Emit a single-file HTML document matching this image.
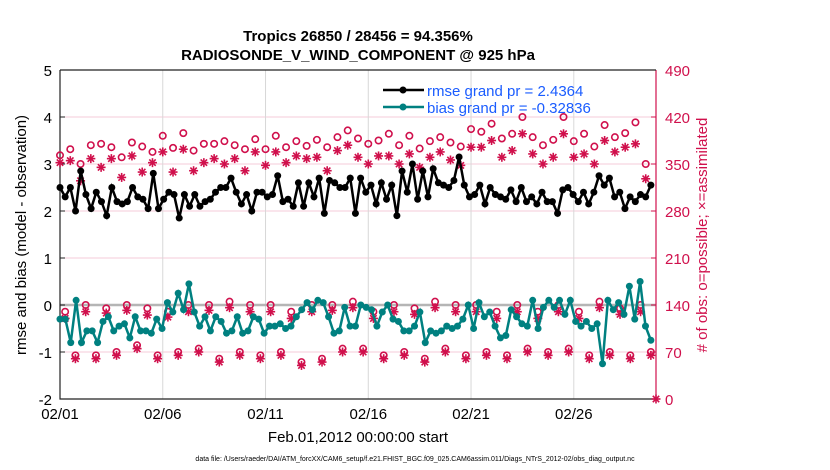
<!DOCTYPE html>
<html><head><meta charset="utf-8"><style>
body{margin:0;background:#fff;}
svg{display:block;font-family:"Liberation Sans",sans-serif;}
</style></head><body>
<svg id="chart" width="830" height="470">
<text x="358" y="41" text-anchor="middle" font-size="15" font-weight="bold">Tropics 26850 / 28456 = 94.356%</text>
<text x="358" y="60" text-anchor="middle" font-size="15" font-weight="bold">RADIOSONDE_V_WIND_COMPONENT @ 925 hPa</text>
<g id="grid"></g><g id="axes"></g><g id="marks"></g>
<text x="358" y="442" text-anchor="middle" font-size="15">Feb.01,2012 00:00:00 start</text>
<text transform="translate(26,235) rotate(-90)" text-anchor="middle" font-size="15">rmse and bias (model - observation)</text>
<text transform="translate(707,235) rotate(-90)" text-anchor="middle" font-size="15" fill="#d0104c"># of obs: o=possible; ×=assimilated</text>
<text x="415" y="461" text-anchor="middle" font-size="7">data file: /Users/raeder/DAI/ATM_forcXX/CAM6_setup/f.e21.FHIST_BGC.f09_025.CAM6assim.011/Diags_NTrS_2012-02/obs_diag_output.nc</text>
<g>
<line x1="383" y1="90" x2="424" y2="90" stroke="#000" stroke-width="2.5"/><circle cx="403" cy="90" r="3.5" fill="#000"/>
<text x="427" y="96" font-size="15" fill="#1a5cff">rmse grand pr = 2.4364</text>
<line x1="383" y1="107" x2="424" y2="107" stroke="#008080" stroke-width="2.5"/><circle cx="403" cy="107" r="3.5" fill="#008080"/>
<text x="427" y="113" font-size="15" fill="#1a5cff">bias grand pr = -0.32836</text>
</g>
</svg>
<script>
const rmse=[2.5,2.3,2.5,2.0,2.85,2.35,2.05,2.4,2.2,1.9,2.5,2.2,2.15,2.2,2.5,2.3,2.25,2.05,2.8,2.05,2.25,2.4,2.35,1.85,2.35,2.1,2.35,2.1,2.2,2.25,2.4,2.5,
2.5,2.7,2.4,2.15,2.35,2.0,2.4,2.4,2.3,2.35,2.75,2.2,2.25,2.1,2.6,2.1,2.6,2.3,2.7,1.95,2.65,2.6,2.5,2.5,2.7,1.95,2.7,2.4,
2.55,2.15,2.6,2.25,2.55,1.9,2.85,2.4,3.0,2.25,2.85,2.3,2.9,2.6,2.55,2.5,2.65,3.15,2.55,2.3,2.35,2.55,2.15,2.5,2.35,2.3,2.25,
2.45,2.2,2.5,2.2,2.3,2.15,2.4,2.2,2.2,1.95,2.45,2.5,2.35,2.2,2.4,2.15,2.4,2.75,2.55,2.7,2.3,2.4,2.05,2.3,2.2,2.35,2.3,2.55];
const bias=[-0.3,-0.3,-0.8,0.1,-0.8,-0.55,-0.55,-0.8,-0.35,-0.25,-0.55,-0.45,-0.4,-0.7,-0.25,-0.55,-0.55,-0.6,-0.3,-0.5,0.05,-0.15,0.25,-0.1,0.45,-0.15,-0.45,-0.25,-0.55,
-0.25,-0.35,-0.6,-0.55,-0.25,-0.6,-0.55,-0.25,-0.3,-0.6,-0.45,-0.45,-0.4,-0.5,-0.45,-0.25,-0.1,0.05,-0.1,0.1,0.05,-0.25,-0.6,-0.55,-0.05,-0.45,-0.45,0,-0.05,
-0.1,-0.45,-0.15,0,-0.3,-0.35,-0.55,-0.55,-0.45,-0.15,-0.8,-0.55,-0.6,-0.55,-0.45,-0.5,-0.45,-0.3,0,-0.5,0.05,-0.25,-0.15,-0.45,-0.7,
-0.65,-0.1,-0.25,-0.4,-0.45,0.1,-0.5,-0.05,0.1,-0.05,0.1,-0.2,0.1,-0.35,-0.45,-0.35,-0.5,-0.4,-1.25,0.1,-0.1,0.05,-0.2,0.4,-0.3,0.5,-0.45,-0.75];
const upPossible=[363,372,350,378,380,375,360,382,376,368,392,374,396,370,380,380,384,378,372,387,372,392,375,384,377,386,375,390,400,388,380,385,395,378,392,373,384,390,382,376,402,398,410,388,395,420,390,378,386,420,384,395,376,408,390,396,412,350];
const upAssim=[352,355,325,358,345,358,330,362,338,352,368,338,372,340,352,358,350,358,340,368,348,368,352,362,358,360,340,370,378,360,350,362,362,350,365,345,360,368,356,348,375,375,385,360,370,395,365,350,360,395,360,365,350,385,368,375,380,328];
const lowPossible=[130,65,140,65,135,70,140,80,135,65,130,70,140,75,140,60,145,70,140,65,140,70,130,55,140,60,140,75,145,75,130,65,140,70,135,60,145,75,140,65,140,70,130,65,140,75,130,70,140,75,130,65,145,70,135,65,140,70];
const lowAssim=[120,60,130,60,128,65,132,75,125,60,122,65,130,70,132,55,136,65,130,60,130,65,120,50,130,55,132,70,136,70,120,60,130,65,126,55,136,70,130,60,130,65,120,60,130,70,120,65,130,70,120,60,136,65,126,60,130,65];
const leftTicks=[-2,-1,0,1,2,3,4,5];
const rightTicks=[0,70,140,210,280,350,420,490];
const dateTicks=[0,5,10,15,20,25];
const dateLabels=["02/01","02/06","02/11","02/16","02/21","02/26"];

const X0=60,X1=656,Y0=70,Y1=399,DAYS=29;
const xs=d=>X0+d/DAYS*(X1-X0);
const ys=v=>Y1-(v+2)/7*(Y1-Y0);
const yr=n=>Y1-n/490*(Y1-Y0);
const NS="http://www.w3.org/2000/svg";
function mk(tag,attrs,parent){const e=document.createElementNS(NS,tag);for(const k in attrs)e.setAttribute(k,attrs[k]);parent.appendChild(e);return e;}
const grid=document.getElementById('grid'),axes=document.getElementById('axes'),marks=document.getElementById('marks');

leftTicks.forEach(v=>{
 const l=mk('line',{x1:X0,x2:X1,y1:ys(v),y2:ys(v),stroke:'#f6cbd9','stroke-width':1},grid);
 
 
 const t=mk('text',{x:X0-8,y:ys(v)+6,'text-anchor':'end','font-size':15},axes);t.textContent=v;
 
 
 mk('line',{x1:X0,x2:X0+5,y1:ys(v),y2:ys(v),stroke:'#222'},axes);
});
rightTicks.forEach(n=>{
 const t=mk('text',{x:X1+9,y:yr(n)+6,'font-size':15,fill:'#d0104c'},axes);t.textContent=n;
 
 
 mk('line',{x1:X1-5,x2:X1,y1:yr(n),y2:yr(n),stroke:'#d0104c'},axes);
});
dateTicks.forEach((d,i)=>{
 const l=mk('line',{x1:xs(d),x2:xs(d),y1:Y0,y2:Y1,stroke:'#d8d8d8'},grid);
 
 
 const t=mk('text',{x:xs(d),y:Y1+20,'text-anchor':'middle','font-size':15},axes);t.textContent=dateLabels[i];
 
 
});
const zl=mk('line',{x1:X0,x2:X1,y1:ys(0),y2:ys(0),stroke:'#b5b5b5','stroke-width':2.5},grid);


const box=mk('path',{d:`M${X0},${Y0}V${Y1}H${X1}`,fill:'none',stroke:'#222','stroke-width':1.2},axes);


const ra=mk('line',{x1:X1,x2:X1,y1:Y0,y2:Y1,stroke:'#d0104c','stroke-width':1.2},axes);


mk('line',{x1:X0,x2:X1,y1:Y0,y2:Y0,stroke:'#222','stroke-width':1.2},axes);

function star(cx,cy,name){
 const g=mk('g',{stroke:'#d0104c','stroke-width':1.6},marks);
 
 
 const r=4.5;
 mk('line',{x1:cx-r,x2:cx+r,y1:cy,y2:cy},g);mk('line',{x1:cx,x2:cx,y1:cy-r,y2:cy+r},g);
 mk('line',{x1:cx-3.2,x2:cx+3.2,y1:cy-3.2,y2:cy+3.2},g);mk('line',{x1:cx-3.2,x2:cx+3.2,y1:cy+3.2,y2:cy-3.2},g);
}
function circ(cx,cy,name){
 const c=mk('circle',{cx:cx,cy:cy,r:3.2,fill:'none',stroke:'#d0104c','stroke-width':1.6},marks);
 
 
}
const step=0.5;
upPossible.forEach((n,i)=>circ(xs(i*step),yr(n),'obs-possible-upper'));
upAssim.forEach((n,i)=>star(xs(i*step),yr(n),'obs-assimilated-upper'));
lowPossible.forEach((n,i)=>circ(xs(i*step+0.25),yr(n),'obs-possible-lower'));
lowAssim.forEach((n,i)=>star(xs(i*step+0.25),yr(n),'obs-assimilated-lower'));
star(xs(DAYS),yr(0),'obs-assimilated-end');

function series(vals,color,name){
 const dx=28.75/(vals.length-1);
 const pts=vals.map((v,i)=>xs(i*dx)+','+ys(v)).join(' ');
 const pl=mk('polyline',{points:pts,fill:'none',stroke:color,'stroke-width':2.5},marks);
 
 
 vals.forEach((v,i)=>{
  const c=mk('circle',{cx:xs(i*dx),cy:ys(v),r:3.5,fill:color},marks);
  
  
 });
}
series(rmse,'#000','rmse');
series(bias,'#008080','bias');
</script>
</body></html>
